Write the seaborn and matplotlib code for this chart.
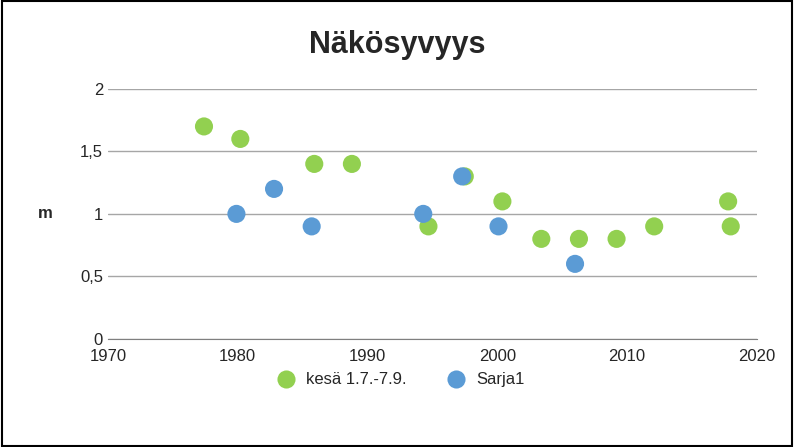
import matplotlib
matplotlib.use("Agg")
import matplotlib.pyplot as plt
import seaborn as sns
import pandas as pd
from matplotlib.ticker import FuncFormatter

# --- Data ---
summer_year = [1977.4, 1980.2, 1985.9, 1988.8, 1994.7, 1997.5, 2000.4, 2003.4, 2006.3, 2009.2, 2012.1, 2017.8, 2018.0]
summer_m = [1.7, 1.6, 1.4, 1.4, 0.9, 1.3, 1.1, 0.8, 0.8, 0.8, 0.9, 1.1, 0.9]
sarja_year = [1979.9, 1982.8, 1985.7, 1994.3, 1997.3, 2000.1, 2006.0]
sarja_m = [1.0, 1.2, 0.9, 1.0, 1.3, 0.9, 0.6]

df = pd.concat([
    pd.DataFrame({"year": summer_year, "m": summer_m, "series": "kesä 1.7.-7.9."}),
    pd.DataFrame({"year": sarja_year, "m": sarja_m, "series": "Sarja1"}),
])

sns.set_style("white")
plt.rcParams['font.family'] = ['Liberation Sans', 'DejaVu Sans']

fig = plt.figure(figsize=(7.94, 4.47), dpi=100)
ax = fig.add_axes([0.136, 0.242, 0.817, 0.559])
sns.scatterplot(data=df, x="year", y="m", hue="series", s=170, edgecolor="none",
                palette={"kesä 1.7.-7.9.": "#92d050", "Sarja1": "#5b9bd5"}, ax=ax, zorder=3)

ax.set_xlim(1970, 2020)
ax.set_ylim(0, 2)
ax.set_xticks(range(1970, 2021, 10))
ax.set_yticks([0, 0.5, 1, 1.5, 2])
ax.yaxis.set_major_formatter(FuncFormatter(lambda v, p: f"{v:g}".replace(".", ",")))
ax.grid(axis="y", color="#a6a6a6", linewidth=1)
for s in ["top", "right", "left"]:
    ax.spines[s].set_visible(False)
ax.spines["bottom"].set_color("#7f7f7f")
ax.tick_params(axis="x", length=4, color="#7f7f7f", labelsize=12)
ax.tick_params(axis="y", length=0, labelsize=12)
ax.set_xlabel("")
ax.set_ylabel("m", rotation=0, fontsize=12, fontweight="bold", labelpad=25, va="center")
fig.text(0.5, 0.9, "Näkösyvyys", fontsize=22, fontweight="bold", ha="center", va="center")
leg = ax.legend(loc="center", bbox_to_anchor=(0.5, 0.15), bbox_transform=fig.transFigure,
                ncol=2, frameon=False, fontsize=12, handletextpad=0.2, columnspacing=2)

fig.patches.append(plt.Rectangle((0.002, 0.003), 0.995, 0.994, transform=fig.transFigure,
                                 fill=False, edgecolor="black", linewidth=1.5))
fig.savefig("out.png", dpi=100)
